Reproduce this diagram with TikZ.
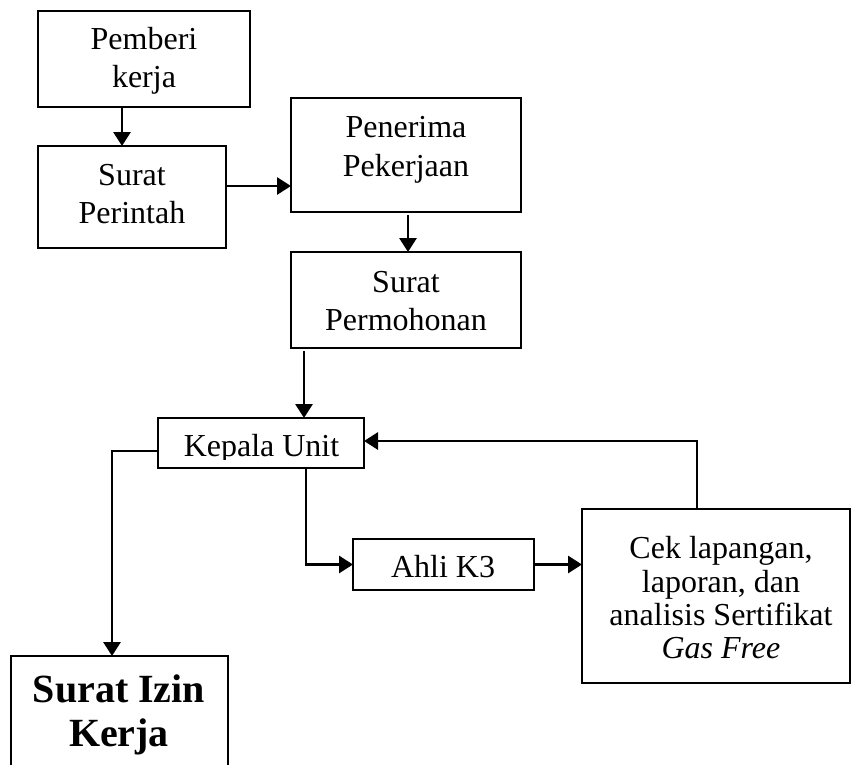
\documentclass[tikz,border=0pt]{standalone}
\usepackage{fontspec}
\setmainfont{Liberation Serif}
\usetikzlibrary{arrows.meta}
\begin{document}
\begin{tikzpicture}[x=1pt,y=-1pt,
  box/.style={draw=black, line width=1.2pt, inner sep=0pt, outer sep=0pt, rectangle},
  txt/.style={align=center, inner sep=0pt, font=\fontsize{32}{38.5}\selectfont},
  arr/.style={line width=2.9pt, -{Triangle[width=17pt,length=14pt]}}]
\useasboundingbox (0,0) rectangle (851,764);
\clip (0,0) rectangle (851,764);
% boxes
\node[box, minimum width=212pt, minimum height=96pt] (pemb) at (144,59) {};
\node[box, minimum width=188pt, minimum height=102pt] (sper) at (132,197) {};
\node[box, minimum width=230pt, minimum height=114pt] (pen) at (406,155) {};
\node[box, minimum width=230pt, minimum height=96pt] (perm) at (406,300) {};
\node[box, minimum width=206pt, minimum height=50pt] (kep) at (261,443) {};
\node[box, minimum width=181pt, minimum height=51pt] (ahli) at (443.5,564.5) {};
\node[box, minimum width=268pt, minimum height=174pt] (cek) at (716,596) {};
\node[box, minimum width=217pt, minimum height=144pt] (izin) at (119.5,728) {};
% texts
\node[txt] (pemb-t) at (144,61) {Pemberi\\kerja};
\node[txt] (sper-t) at (132,194) {Surat\\Perintah};
\node[txt] (pen-t) at (406,150) {Penerima\\Pekerjaan};
\node[txt] (perm-t) at (406,301) {Surat\\Permohonan};
\begin{scope}
  \clip (157,417) rectangle (365,459);
  \node[txt, anchor=base] (kep-t) at (261.5,456) {Kepala Unit};
\end{scope}
\node[txt] (ahli-t) at (443,567) {Ahli K3};
\node[txt, font=\fontsize{32}{33.3}\selectfont] (cek-t) at (721,598)
  {Cek lapangan,\\laporan, dan\\analisis Sertifikat\\\textit{Gas Free}};
\node[txt, font=\fontsize{40}{44}\selectfont\bfseries] (izin-t) at (119,714.5) {Surat Izin\\Kerja};
% connectors
\draw[arr] ([xshift=-22pt]pemb.south) -- ([xshift=-10pt]sper.north);
\draw[arr] ([yshift=11pt]sper.east) -- ([yshift=-31pt]pen.west);
\draw[arr, shorten <=3pt] ([xshift=2pt]pen.south) -- ([xshift=2pt]perm.north);
\draw[arr, shorten <=3pt] ([xshift=-102pt]perm.south) -- ([xshift=43pt]kep.north);
\draw[arr] ([yshift=-8pt]kep.west) -| ([xshift=-7.5pt]izin.north);
\draw[arr] ([xshift=45pt]kep.south) |- (ahli.west);
\draw[arr] (ahli.east) -- (ahli.east -| cek.west);
\draw[arr] ([xshift=-19pt]cek.north) |- ([yshift=2pt]kep.east);
\end{tikzpicture}
\end{document}
